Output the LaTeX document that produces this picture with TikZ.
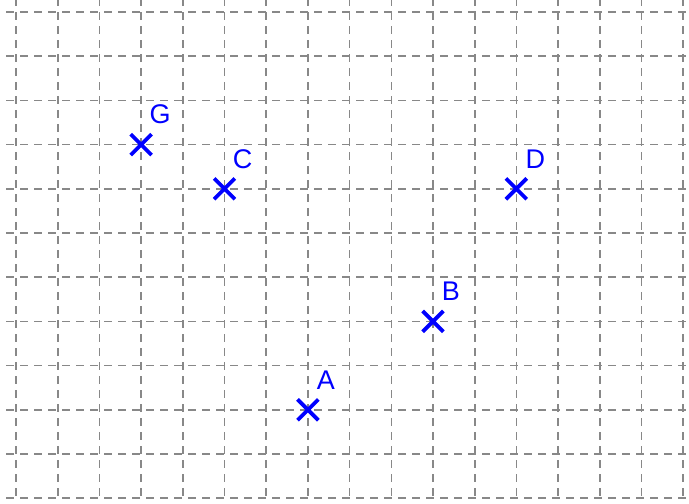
\documentclass[tikz,border=0pt]{standalone}
\usepackage{fontspec}
\setmainfont{Liberation Sans}
\usetikzlibrary{shapes.misc}
\begin{document}
\begin{tikzpicture}[x=1pt,y=-1pt,
  gridline/.style={draw={rgb,255:red,136;green,136;blue,136}, line width=1.6pt, dash pattern=on 8pt off 6pt},
  ptmark/.style={cross out, draw=blue, line width=3.8pt, minimum size=17pt, inner sep=0pt},
  ptlabel/.style={text=blue, font=\fontsize{27}{27}\selectfont, inner sep=0pt}]
\useasboundingbox (0,0) rectangle (689,504);
\begin{scope}
\clip (0,0) rectangle (689,504);
\foreach \i in {0,...,16} \draw[gridline] ({16+\i*41.7},-2) -- ({16+\i*41.7},498);
\foreach \j in {0,...,11} \draw[gridline] (6,{12+\j*44.2}) -- (692,{12+\j*44.2});
\end{scope}
\node[ptmark] (G) at (141.1,144.6) {};
\node[ptmark] (C) at (224.5,188.8) {};
\node[ptmark] (D) at (516.3,188.8) {};
\node[ptmark] (B) at (433,321.4) {};
\node[ptmark] (A) at (307.9,409.8) {};
\node[ptlabel] (Gl) at ([xshift=19pt,yshift=30pt]G) {G};
\node[ptlabel] (Cl) at ([xshift=18pt,yshift=30pt]C) {C};
\node[ptlabel] (Dl) at ([xshift=19pt,yshift=30pt]D) {D};
\node[ptlabel] (Bl) at ([xshift=18pt,yshift=30pt]B) {B};
\node[ptlabel] (Al) at ([xshift=18pt,yshift=30pt]A) {A};
\end{tikzpicture}
\end{document}
